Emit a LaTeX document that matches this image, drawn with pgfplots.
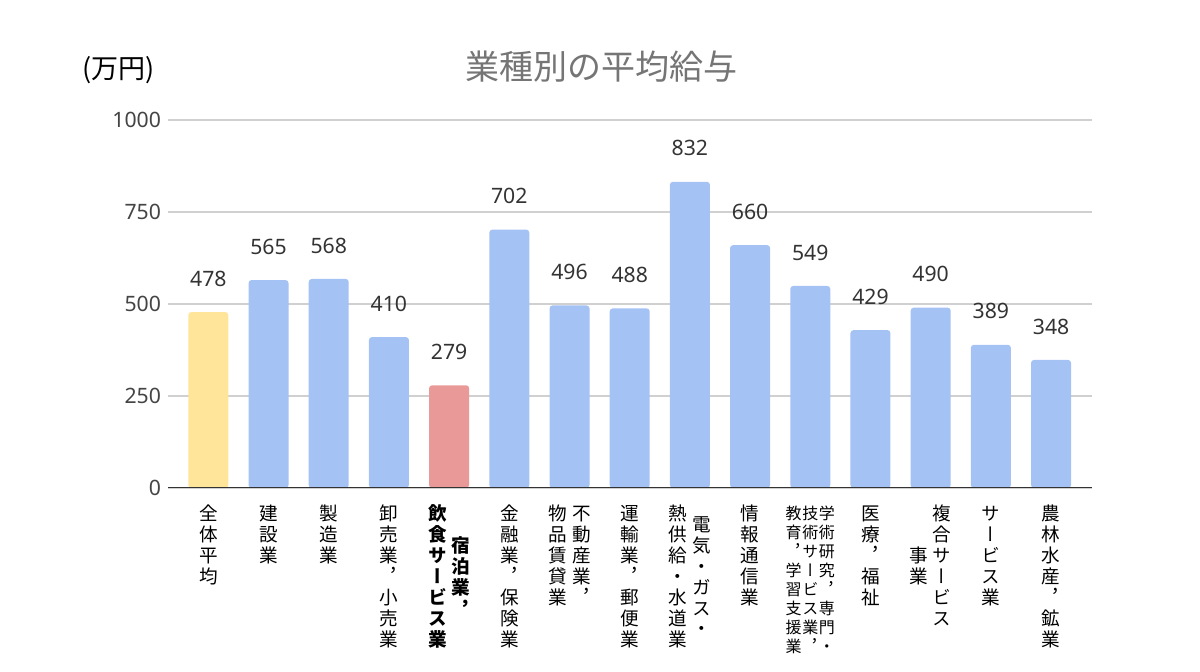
\documentclass[border=0pt]{standalone}
\usepackage{pgfplots}
\pgfplotsset{compat=1.18}
\usepackage{fontspec}
\setmainfont{Noto Sans}
\newfontfamily\jp{Noto Sans CJK JP}
\newfontfamily\vjp[RawFeature=+vert]{Noto Sans CJK JP}

\definecolor{barblue}{HTML}{A4C2F4}
\definecolor{baryellow}{HTML}{FFE599}
\definecolor{barred}{HTML}{EA9999}
\definecolor{gridc}{HTML}{D0D0D0}
\definecolor{axisc}{HTML}{333333}
\definecolor{tickc}{HTML}{444444}
\definecolor{titlec}{HTML}{757575}

% vertical column of characters
\makeatletter
\newdimen\vw \newdimen\vh \newdimen\vd
\vw=10pt \vh=8.3pt \vd=2.15pt
\def\vcol@#1{\ifx#1\@nil\else\hbox to \vw{\hss\vrule height \vh depth \vd width 0pt\relax#1\hss}\expandafter\vcol@\fi}
\newcommand\vc[1]{$\vcenter{\offinterlineskip\vjp\fontsize{9.3}{11}\selectfont\vcol@#1\@nil}$}
\newcommand\vcb[1]{$\vcenter{\offinterlineskip\vjp\bfseries\fontsize{9.3}{11}\selectfont\vcol@#1\@nil}$}
\newcommand\vcs[1]{$\vcenter{\offinterlineskip\vw=8pt\vh=7.4pt\vd=2.1pt\vjp\fontsize{8}{9.5}\selectfont\vcol@#1\@nil}$}
\makeatother

\begin{document}
\begin{tikzpicture}
\path[use as bounding box] (-84pt,-92pt) rectangle (516pt,244pt);
\begin{axis}[
  at={(0,0)}, anchor=south west, scale only axis,
  width=462pt, height=184pt,
  xmin=-0.67, xmax=14.68, ymin=0, ymax=1000,
  ytick={0,250,500,750,1000},
  xtick={0,...,14},
  xticklabels={
    {\vc{全体平均}},
    {\vc{建設業}},
    {\vc{製造業}},
    {\vc{卸売業，小売業}},
    {\vcb{飲食サービス業}\kern1.5pt\vcb{宿泊業，}},
    {\vc{金融業，保険業}},
    {\vc{物品賃貸業}\kern2pt\vc{不動産業，}},
    {\vc{運輸業，郵便業}},
    {\vc{熱供給・水道業}\kern2pt\vc{電気・ガス・}},
    {\vc{情報通信業}},
    {\vcs{教育，学習支援業}\kern0.3pt\vcs{技術サービス業，}\kern0.3pt\vcs{学術研究，専門・}},
    {\vc{医療，福祉}},
    {\vc{事業}\kern1.5pt\vc{複合サービス}},
    {\vc{サービス業}},
    {\vc{農林水産，鉱業}}
  },
  axis line style={draw=none},
  major tick length=0pt,
  ymajorgrids, grid style={draw=gridc, line width=0.6pt},
  yticklabel style={font=\fontsize{10.6}{12}\selectfont, text=tickc,
    /pgf/number format/assume math mode=true, /pgf/number format/1000 sep={}},
  xticklabel style={anchor=north, inner sep=0pt, yshift=-8pt, text=black},
  ybar, bar width=20pt,
  nodes near coords style={font=\fontsize{10.6}{12}\selectfont, text=axisc, yshift=9.3pt,
    /pgf/number format/assume math mode=true},
]
\addplot[fill=baryellow, draw=none, bar shift=0pt, rounded corners=1.5pt, nodes near coords]
  coordinates {(0,478)};
\addplot[fill=barblue, draw=none, bar shift=0pt, rounded corners=1.5pt, nodes near coords]
  coordinates {
  (1,565) (2,568) (3,410) (5,702) (6,496) (7,488) (8,832)
  (9,660) (10,549) (11,429) (12,490) (13,389) (14,348)};
\addplot[fill=barred, draw=none, bar shift=0pt, rounded corners=1.5pt, nodes near coords]
  coordinates {(4,279)};
% baseline at zero
\addplot[sharp plot, draw=axisc, line width=0.9pt, fill=none, forget plot]
  coordinates {(-0.67,0) (14.68,0)};
\end{axis}
\node[font=\jp\fontsize{17}{20}\selectfont, text=titlec] at (216.5pt,210.5pt) {業種別の平均給与};
\node[font=\jp\fontsize{13.5}{15}\selectfont, text=black] at (-24.5pt,209pt) {(万円)};
\end{tikzpicture}
\end{document}
